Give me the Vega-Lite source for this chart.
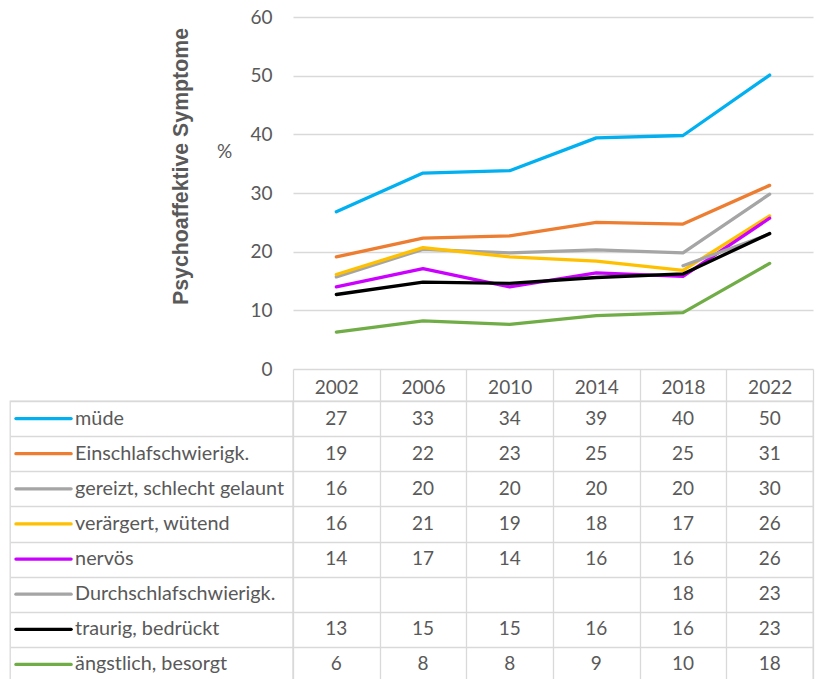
{
  "$schema": "https://vega.github.io/schema/vega-lite/v6.json",
  "autosize": {"type": "pad"},
  "padding": {"left": 9, "top": 8, "right": 0, "bottom": 0},
  "config": {"view": {"stroke": null}, "font": "Lato", "axis": {"labelFont": "Lato"}},
  "datasets": {
    "d": [
      {"s": "müde", "year": "2002", "v": 26.8},
      {"s": "müde", "year": "2006", "v": 33.4},
      {"s": "müde", "year": "2010", "v": 33.8},
      {"s": "müde", "year": "2014", "v": 39.4},
      {"s": "müde", "year": "2018", "v": 39.8},
      {"s": "müde", "year": "2022", "v": 50.1},
      {"s": "Einschlafschwierigk.", "year": "2002", "v": 19.1},
      {"s": "Einschlafschwierigk.", "year": "2006", "v": 22.3},
      {"s": "Einschlafschwierigk.", "year": "2010", "v": 22.7},
      {"s": "Einschlafschwierigk.", "year": "2014", "v": 25.0},
      {"s": "Einschlafschwierigk.", "year": "2018", "v": 24.7},
      {"s": "Einschlafschwierigk.", "year": "2022", "v": 31.3},
      {"s": "gereizt, schlecht gelaunt", "year": "2002", "v": 15.7},
      {"s": "gereizt, schlecht gelaunt", "year": "2006", "v": 20.4},
      {"s": "gereizt, schlecht gelaunt", "year": "2010", "v": 19.8},
      {"s": "gereizt, schlecht gelaunt", "year": "2014", "v": 20.3},
      {"s": "gereizt, schlecht gelaunt", "year": "2018", "v": 19.8},
      {"s": "gereizt, schlecht gelaunt", "year": "2022", "v": 29.8},
      {"s": "verärgert, wütend", "year": "2002", "v": 16.1},
      {"s": "verärgert, wütend", "year": "2006", "v": 20.7},
      {"s": "verärgert, wütend", "year": "2010", "v": 19.1},
      {"s": "verärgert, wütend", "year": "2014", "v": 18.4},
      {"s": "verärgert, wütend", "year": "2018", "v": 16.8},
      {"s": "verärgert, wütend", "year": "2022", "v": 26.1},
      {"s": "nervös", "year": "2002", "v": 14.0},
      {"s": "nervös", "year": "2006", "v": 17.1},
      {"s": "nervös", "year": "2010", "v": 14.0},
      {"s": "nervös", "year": "2014", "v": 16.4},
      {"s": "nervös", "year": "2018", "v": 15.8},
      {"s": "nervös", "year": "2022", "v": 25.7},
      {"s": "Durchschlafschwierigk.", "year": "2018", "v": 17.6},
      {"s": "Durchschlafschwierigk.", "year": "2022", "v": 23.0},
      {"s": "traurig, bedrückt", "year": "2002", "v": 12.7},
      {"s": "traurig, bedrückt", "year": "2006", "v": 14.8},
      {"s": "traurig, bedrückt", "year": "2010", "v": 14.6},
      {"s": "traurig, bedrückt", "year": "2014", "v": 15.6},
      {"s": "traurig, bedrückt", "year": "2018", "v": 16.2},
      {"s": "traurig, bedrückt", "year": "2022", "v": 23.1},
      {"s": "ängstlich, besorgt", "year": "2002", "v": 6.3},
      {"s": "ängstlich, besorgt", "year": "2006", "v": 8.2},
      {"s": "ängstlich, besorgt", "year": "2010", "v": 7.6},
      {"s": "ängstlich, besorgt", "year": "2014", "v": 9.1},
      {"s": "ängstlich, besorgt", "year": "2018", "v": 9.6},
      {"s": "ängstlich, besorgt", "year": "2022", "v": 18.0}
    ]
  },
  "columns": 2,
  "spacing": {"row": 32, "column": 0},
  "bounds": "flush",
  "resolve": {"scale": {"x": "independent", "y": "independent", "color": "shared"}},
  "concat": [
    {
      "width": 283,
      "height": 352,
      "data": {"values": []},
      "mark": "point"
    },
    {
      "width": 520,
      "height": 352,
      "data": {"name": "d"},
      "layer": [
        {
          "mark": {"type": "line", "strokeWidth": 3.3, "strokeCap": "round", "strokeJoin": "round"},
          "encoding": {
            "x": {"field": "year", "type": "ordinal", "scale": {"type": "point", "padding": 0.5}, "axis": null},
            "y": {
              "field": "v", "type": "quantitative",
              "scale": {"domain": [0, 60]},
              "axis": {
                "orient": "left",
                "values": [0, 10, 20, 30, 40, 50, 60],
                "title": "%", "titleAngle": 0, "titleX": -69, "titleY": 134,
                "titleAlign": "center", "titleBaseline": "middle",
                "titleFont": "Lato", "titleFontSize": 19, "titleFontWeight": "normal", "titleColor": "#595959",
                "labelFontSize": 19, "labelColor": "#595959", "labelPadding": 21,
                "ticks": false, "domain": false, "grid": true, "gridColor": "#D9D9D9", "gridWidth": 1.3
              }
            },
            "color": {
              "field": "s", "type": "nominal",
              "scale": {
                "domain": ["müde", "Einschlafschwierigk.", "gereizt, schlecht gelaunt", "verärgert, wütend", "nervös", "Durchschlafschwierigk.", "traurig, bedrückt", "ängstlich, besorgt"],
                "range": ["#00B0F0", "#ED7D31", "#A5A5A5", "#FFC000", "#CC00FF", "#A5A5A5", "#000000", "#70AD47"]
              },
              "legend": null
            }
          }
        },
        {
          "transform": [{"filter": "false"}],
          "mark": "line",
          "encoding": {
            "x": {"field": "year", "type": "ordinal"},
            "y": {
              "field": "v", "type": "quantitative",
              "axis": {
                "orient": "left",
                "title": "Psychoaffektive Symptome", "titleAngle": 270, "titleX": -112, "titleY": 149,
                "titleAlign": "center", "titleBaseline": "middle",
                "titleFont": "Liberation Sans", "titleFontSize": 21.3, "titleFontWeight": "bold", "titleColor": "#595959",
                "labels": false, "ticks": false, "domain": false, "grid": false
              }
            }
          }
        }
      ],
      "resolve": {"axis": {"y": "independent"}}
    },
    {
      "width": 283,
      "height": 281,
      "data": {"name": "d"},
      "transform": [{"filter": "datum.year == '2022'"}],
      "view": {"stroke": "#D9D9D9", "strokeWidth": 1.3},
      "encoding": {
        "y": {
          "field": "s", "type": "nominal",
          "scale": {"domain": ["müde", "Einschlafschwierigk.", "gereizt, schlecht gelaunt", "verärgert, wütend", "nervös", "Durchschlafschwierigk.", "traurig, bedrückt", "ängstlich, besorgt"], "paddingInner": 0, "paddingOuter": 0},
          "axis": {"title": null, "labels": false, "ticks": false, "domain": false, "grid": true, "tickBand": "extent", "gridColor": "#D9D9D9", "gridWidth": 1.3}
        }
      },
      "layer": [
        {
          "mark": {"type": "rule", "strokeWidth": 3.3, "strokeCap": "round"},
          "encoding": {
            "x": {"datum": 2.1, "type": "quantitative", "scale": {"domain": [0, 100]}, "axis": null},
            "x2": {"datum": 21.6},
            "color": {"field": "s", "type": "nominal", "legend": null}
          }
        },
        {
          "mark": {"type": "text", "align": "left", "baseline": "middle", "fontSize": 19.8, "color": "#595959", "font": "Lato"},
          "encoding": {
            "x": {"datum": 23, "type": "quantitative"},
            "text": {"field": "s"}
          }
        }
      ]
    },
    {
      "width": 520,
      "height": 281,
      "data": {"name": "d"},
      "view": {"stroke": "#D9D9D9", "strokeWidth": 1.3},
      "mark": {"type": "text", "fontSize": 19, "color": "#595959", "baseline": "middle", "font": "Lato"},
      "encoding": {
        "x": {
          "field": "year", "type": "ordinal",
          "scale": {"paddingInner": 0, "paddingOuter": 0},
          "axis": {
            "orient": "top", "title": null, "tickBand": "extent", "ticks": true, "tickSize": 32, "tickColor": "#D9D9D9", "tickWidth": 1.3,
            "domain": false, "grid": true, "gridColor": "#D9D9D9", "gridWidth": 1.3,
            "labelAngle": 0, "labelFontSize": 19, "labelColor": "#595959", "labelPadding": -24, "labelBaseline": "alphabetic"
          }
        },
        "y": {
          "field": "s", "type": "nominal",
          "scale": {"domain": ["müde", "Einschlafschwierigk.", "gereizt, schlecht gelaunt", "verärgert, wütend", "nervös", "Durchschlafschwierigk.", "traurig, bedrückt", "ängstlich, besorgt"], "paddingInner": 0, "paddingOuter": 0},
          "axis": {"title": null, "labels": false, "ticks": false, "domain": false, "grid": true, "tickBand": "extent", "gridColor": "#D9D9D9", "gridWidth": 1.3}
        },
        "text": {"field": "v", "type": "quantitative", "format": ".0f"}
      }
    }
  ]
}
